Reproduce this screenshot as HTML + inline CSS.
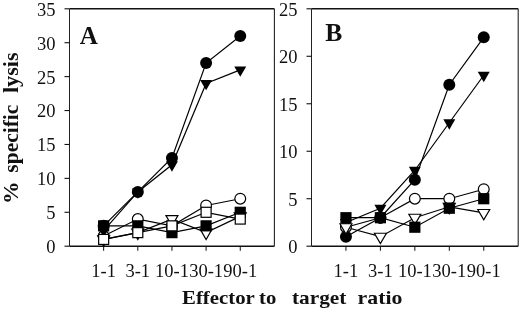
<!DOCTYPE html>
<html><head><meta charset="utf-8"><style>
html,body{margin:0;padding:0;background:#fff;}
body{width:520px;height:312px;overflow:hidden;}
svg{display:block;will-change:transform;}
.t{font-family:"Liberation Serif",serif;font-size:18.5px;fill:#111;}
.T{font-family:"Liberation Serif",serif;font-size:19.5px;font-weight:bold;fill:#111;}
.Y{font-family:"Liberation Serif",serif;font-size:20.5px;font-weight:bold;fill:#111;}
.L{font-family:"Liberation Serif",serif;font-size:25px;font-weight:bold;fill:#111;}
</style></head><body>
<svg width="520" height="312" viewBox="0 0 520 312">
<path d="M69.5 8.8H274.4" stroke="#111" stroke-width="1.4"/>
<path d="M69.5 246.2H274.4" stroke="#111" stroke-width="1.6"/>
<path d="M69.5 8.8V246.2" stroke="#222" stroke-width="1.0"/>
<path d="M274.4 8.8V246.2" stroke="#222" stroke-width="1.1"/>
<path d="M64.5 246.20H69.5" stroke="#111" stroke-width="1.1"/>
<text x="55.50" y="253.10" class="t" text-anchor="end">0</text>
<path d="M64.5 212.29H69.5" stroke="#111" stroke-width="1.1"/>
<text x="55.50" y="219.19" class="t" text-anchor="end">5</text>
<path d="M64.5 178.37H69.5" stroke="#111" stroke-width="1.1"/>
<text x="55.50" y="185.27" class="t" text-anchor="end">10</text>
<path d="M64.5 144.46H69.5" stroke="#111" stroke-width="1.1"/>
<text x="55.50" y="151.36" class="t" text-anchor="end">15</text>
<path d="M64.5 110.54H69.5" stroke="#111" stroke-width="1.1"/>
<text x="55.50" y="117.44" class="t" text-anchor="end">20</text>
<path d="M64.5 76.63H69.5" stroke="#111" stroke-width="1.1"/>
<text x="55.50" y="83.53" class="t" text-anchor="end">25</text>
<path d="M64.5 42.71H69.5" stroke="#111" stroke-width="1.1"/>
<text x="55.50" y="49.61" class="t" text-anchor="end">30</text>
<path d="M64.5 8.80H69.5" stroke="#111" stroke-width="1.1"/>
<text x="55.50" y="15.70" class="t" text-anchor="end">35</text>
<path d="M103.65 246.2V250.79999999999998" stroke="#111" stroke-width="1.0"/>
<text x="103.65" y="276.9" class="t" text-anchor="middle">1-1</text>
<path d="M137.80 246.2V250.79999999999998" stroke="#111" stroke-width="1.0"/>
<text x="137.80" y="276.9" class="t" text-anchor="middle">3-1</text>
<path d="M171.95 246.2V250.79999999999998" stroke="#111" stroke-width="1.0"/>
<text x="171.95" y="276.9" class="t" text-anchor="middle">10-1</text>
<path d="M206.10 246.2V250.79999999999998" stroke="#111" stroke-width="1.0"/>
<text x="206.10" y="276.9" class="t" text-anchor="middle">30-1</text>
<path d="M240.25 246.2V250.79999999999998" stroke="#111" stroke-width="1.0"/>
<text x="240.25" y="276.9" class="t" text-anchor="middle">90-1</text>
<path d="M103.65 225.85L137.80 191.94L171.95 158.02L206.10 63.06L240.25 35.93" fill="none" stroke="#000" stroke-width="1.2"/>
<path d="M103.65 236.03L137.80 219.07L171.95 225.85L206.10 205.50L240.25 198.72" fill="none" stroke="#000" stroke-width="1.2"/>
<path d="M103.65 230.60L137.80 191.94L171.95 164.81L206.10 83.41L240.25 69.85" fill="none" stroke="#000" stroke-width="1.2"/>
<path d="M103.65 239.42L137.80 232.63L171.95 219.07L206.10 232.63L240.25 216.36" fill="none" stroke="#000" stroke-width="1.2"/>
<path d="M103.65 225.85L137.80 225.85L171.95 232.63L206.10 225.85L240.25 212.29" fill="none" stroke="#000" stroke-width="1.2"/>
<path d="M103.65 239.42L137.80 232.63L171.95 225.85L206.10 212.29L240.25 219.07" fill="none" stroke="#000" stroke-width="1.2"/>
<circle cx="103.65" cy="225.85" r="6.00" fill="#000" stroke="#000" stroke-width="0"/>
<circle cx="137.80" cy="191.94" r="6.00" fill="#000" stroke="#000" stroke-width="0"/>
<circle cx="171.95" cy="158.02" r="6.00" fill="#000" stroke="#000" stroke-width="0"/>
<circle cx="206.10" cy="63.06" r="6.00" fill="#000" stroke="#000" stroke-width="0"/>
<circle cx="240.25" cy="35.93" r="6.00" fill="#000" stroke="#000" stroke-width="0"/>
<circle cx="103.65" cy="236.03" r="5.40" fill="#fff" stroke="#000" stroke-width="1.2"/>
<circle cx="137.80" cy="219.07" r="5.40" fill="#fff" stroke="#000" stroke-width="1.2"/>
<circle cx="171.95" cy="225.85" r="5.40" fill="#fff" stroke="#000" stroke-width="1.2"/>
<circle cx="206.10" cy="205.50" r="5.40" fill="#fff" stroke="#000" stroke-width="1.2"/>
<circle cx="240.25" cy="198.72" r="5.40" fill="#fff" stroke="#000" stroke-width="1.2"/>
<path d="M97.65 227.13L109.65 227.13L103.65 237.53Z" fill="#000" stroke="#000" stroke-width="0" stroke-linejoin="miter"/>
<path d="M131.80 188.47L143.80 188.47L137.80 198.87Z" fill="#000" stroke="#000" stroke-width="0" stroke-linejoin="miter"/>
<path d="M165.95 161.34L177.95 161.34L171.95 171.74Z" fill="#000" stroke="#000" stroke-width="0" stroke-linejoin="miter"/>
<path d="M200.10 79.94L212.10 79.94L206.10 90.34Z" fill="#000" stroke="#000" stroke-width="0" stroke-linejoin="miter"/>
<path d="M234.25 66.38L246.25 66.38L240.25 76.78Z" fill="#000" stroke="#000" stroke-width="0" stroke-linejoin="miter"/>
<path d="M97.65 235.95L109.65 235.95L103.65 246.35Z" fill="#fff" stroke="#000" stroke-width="1.2" stroke-linejoin="miter"/>
<path d="M131.80 229.17L143.80 229.17L137.80 239.57Z" fill="#fff" stroke="#000" stroke-width="1.2" stroke-linejoin="miter"/>
<path d="M165.95 215.60L177.95 215.60L171.95 226.00Z" fill="#fff" stroke="#000" stroke-width="1.2" stroke-linejoin="miter"/>
<path d="M200.10 229.17L212.10 229.17L206.10 239.57Z" fill="#fff" stroke="#000" stroke-width="1.2" stroke-linejoin="miter"/>
<path d="M234.25 212.89L246.25 212.89L240.25 223.29Z" fill="#fff" stroke="#000" stroke-width="1.2" stroke-linejoin="miter"/>
<rect x="98.05" y="220.25" width="11.20" height="11.20" fill="#000" stroke="#000" stroke-width="0"/>
<rect x="132.20" y="220.25" width="11.20" height="11.20" fill="#000" stroke="#000" stroke-width="0"/>
<rect x="166.35" y="227.03" width="11.20" height="11.20" fill="#000" stroke="#000" stroke-width="0"/>
<rect x="200.50" y="220.25" width="11.20" height="11.20" fill="#000" stroke="#000" stroke-width="0"/>
<rect x="234.65" y="206.69" width="11.20" height="11.20" fill="#000" stroke="#000" stroke-width="0"/>
<rect x="98.65" y="234.42" width="10.00" height="10.00" fill="#fff" stroke="#000" stroke-width="1.2"/>
<rect x="132.80" y="227.63" width="10.00" height="10.00" fill="#fff" stroke="#000" stroke-width="1.2"/>
<rect x="166.95" y="220.85" width="10.00" height="10.00" fill="#fff" stroke="#000" stroke-width="1.2"/>
<rect x="201.10" y="207.29" width="10.00" height="10.00" fill="#fff" stroke="#000" stroke-width="1.2"/>
<rect x="235.25" y="214.07" width="10.00" height="10.00" fill="#fff" stroke="#000" stroke-width="1.2"/>
<path d="M311.5 8.8H518.2" stroke="#111" stroke-width="1.4"/>
<path d="M311.5 246.2H518.2" stroke="#111" stroke-width="1.6"/>
<path d="M311.5 8.8V246.2" stroke="#222" stroke-width="1.0"/>
<path d="M518.2 8.8V246.2" stroke="#222" stroke-width="1.1"/>
<path d="M306.5 246.20H311.5" stroke="#111" stroke-width="1.1"/>
<text x="297.50" y="253.10" class="t" text-anchor="end">0</text>
<path d="M306.5 198.72H311.5" stroke="#111" stroke-width="1.1"/>
<text x="297.50" y="205.62" class="t" text-anchor="end">5</text>
<path d="M306.5 151.24H311.5" stroke="#111" stroke-width="1.1"/>
<text x="297.50" y="158.14" class="t" text-anchor="end">10</text>
<path d="M306.5 103.76H311.5" stroke="#111" stroke-width="1.1"/>
<text x="297.50" y="110.66" class="t" text-anchor="end">15</text>
<path d="M306.5 56.28H311.5" stroke="#111" stroke-width="1.1"/>
<text x="297.50" y="63.18" class="t" text-anchor="end">20</text>
<path d="M306.5 8.80H311.5" stroke="#111" stroke-width="1.1"/>
<text x="297.50" y="15.70" class="t" text-anchor="end">25</text>
<path d="M345.95 246.2V250.79999999999998" stroke="#111" stroke-width="1.0"/>
<text x="345.95" y="276.9" class="t" text-anchor="middle">1-1</text>
<path d="M380.40 246.2V250.79999999999998" stroke="#111" stroke-width="1.0"/>
<text x="380.40" y="276.9" class="t" text-anchor="middle">3-1</text>
<path d="M414.85 246.2V250.79999999999998" stroke="#111" stroke-width="1.0"/>
<text x="414.85" y="276.9" class="t" text-anchor="middle">10-1</text>
<path d="M449.30 246.2V250.79999999999998" stroke="#111" stroke-width="1.0"/>
<text x="449.30" y="276.9" class="t" text-anchor="middle">30-1</text>
<path d="M483.75 246.2V250.79999999999998" stroke="#111" stroke-width="1.0"/>
<text x="483.75" y="276.9" class="t" text-anchor="middle">90-1</text>
<path d="M345.95 236.70L380.40 217.71L414.85 179.73L449.30 84.77L483.75 37.29" fill="none" stroke="#000" stroke-width="1.2"/>
<path d="M345.95 227.21L380.40 217.71L414.85 198.72L449.30 198.72L483.75 189.22" fill="none" stroke="#000" stroke-width="1.2"/>
<path d="M345.95 222.46L380.40 208.22L414.85 170.23L449.30 122.75L483.75 75.27" fill="none" stroke="#000" stroke-width="1.2"/>
<path d="M345.95 227.21L380.40 236.70L414.85 217.71L449.30 206.79L483.75 212.96" fill="none" stroke="#000" stroke-width="1.2"/>
<path d="M345.95 217.71L380.40 217.71L414.85 227.21L449.30 208.22L483.75 198.72" fill="none" stroke="#000" stroke-width="1.2"/>
<circle cx="345.95" cy="236.70" r="6.00" fill="#000" stroke="#000" stroke-width="0"/>
<circle cx="380.40" cy="217.71" r="6.00" fill="#000" stroke="#000" stroke-width="0"/>
<circle cx="414.85" cy="179.73" r="6.00" fill="#000" stroke="#000" stroke-width="0"/>
<circle cx="449.30" cy="84.77" r="6.00" fill="#000" stroke="#000" stroke-width="0"/>
<circle cx="483.75" cy="37.29" r="6.00" fill="#000" stroke="#000" stroke-width="0"/>
<circle cx="345.95" cy="227.21" r="5.40" fill="#fff" stroke="#000" stroke-width="1.2"/>
<circle cx="380.40" cy="217.71" r="5.40" fill="#fff" stroke="#000" stroke-width="1.2"/>
<circle cx="414.85" cy="198.72" r="5.40" fill="#fff" stroke="#000" stroke-width="1.2"/>
<circle cx="449.30" cy="198.72" r="5.40" fill="#fff" stroke="#000" stroke-width="1.2"/>
<circle cx="483.75" cy="189.22" r="5.40" fill="#fff" stroke="#000" stroke-width="1.2"/>
<path d="M339.95 218.99L351.95 218.99L345.95 229.39Z" fill="#000" stroke="#000" stroke-width="0" stroke-linejoin="miter"/>
<path d="M374.40 204.75L386.40 204.75L380.40 215.15Z" fill="#000" stroke="#000" stroke-width="0" stroke-linejoin="miter"/>
<path d="M408.85 166.77L420.85 166.77L414.85 177.17Z" fill="#000" stroke="#000" stroke-width="0" stroke-linejoin="miter"/>
<path d="M443.30 119.29L455.30 119.29L449.30 129.69Z" fill="#000" stroke="#000" stroke-width="0" stroke-linejoin="miter"/>
<path d="M477.75 71.81L489.75 71.81L483.75 82.21Z" fill="#000" stroke="#000" stroke-width="0" stroke-linejoin="miter"/>
<path d="M339.95 223.74L351.95 223.74L345.95 234.14Z" fill="#fff" stroke="#000" stroke-width="1.2" stroke-linejoin="miter"/>
<path d="M374.40 233.24L386.40 233.24L380.40 243.64Z" fill="#fff" stroke="#000" stroke-width="1.2" stroke-linejoin="miter"/>
<path d="M408.85 214.25L420.85 214.25L414.85 224.65Z" fill="#fff" stroke="#000" stroke-width="1.2" stroke-linejoin="miter"/>
<path d="M443.30 203.32L455.30 203.32L449.30 213.72Z" fill="#fff" stroke="#000" stroke-width="1.2" stroke-linejoin="miter"/>
<path d="M477.75 209.50L489.75 209.50L483.75 219.90Z" fill="#fff" stroke="#000" stroke-width="1.2" stroke-linejoin="miter"/>
<rect x="340.35" y="212.11" width="11.20" height="11.20" fill="#000" stroke="#000" stroke-width="0"/>
<rect x="374.80" y="212.11" width="11.20" height="11.20" fill="#000" stroke="#000" stroke-width="0"/>
<rect x="409.25" y="221.61" width="11.20" height="11.20" fill="#000" stroke="#000" stroke-width="0"/>
<rect x="443.70" y="202.62" width="11.20" height="11.20" fill="#000" stroke="#000" stroke-width="0"/>
<rect x="478.15" y="193.12" width="11.20" height="11.20" fill="#000" stroke="#000" stroke-width="0"/>
<text x="79.8" y="43.9" class="L">A</text>
<text x="325.3" y="41.4" class="L" style="font-size:25.6px">B</text>
<text x="182.00" y="304.00" class="T" textLength="72.80" lengthAdjust="spacingAndGlyphs">Effector</text>
<text x="259.00" y="304.00" class="T" textLength="17.27" lengthAdjust="spacingAndGlyphs">to</text>
<text x="292.00" y="304.00" class="T" textLength="54.40" lengthAdjust="spacingAndGlyphs">target</text>
<text x="357.60" y="304.00" class="T" textLength="44.80" lengthAdjust="spacingAndGlyphs">ratio</text>
<g transform="translate(17.6 0) rotate(-90)">
<text x="-204.00" y="0.00" class="Y" textLength="22.55" lengthAdjust="spacingAndGlyphs">%</text>
<text x="-172.65" y="0.00" class="Y" textLength="68.00" lengthAdjust="spacingAndGlyphs">specific</text>
<text x="-93.10" y="0.00" class="Y" textLength="40.74" lengthAdjust="spacingAndGlyphs">lysis</text>
</g>
</svg>
</body></html>
